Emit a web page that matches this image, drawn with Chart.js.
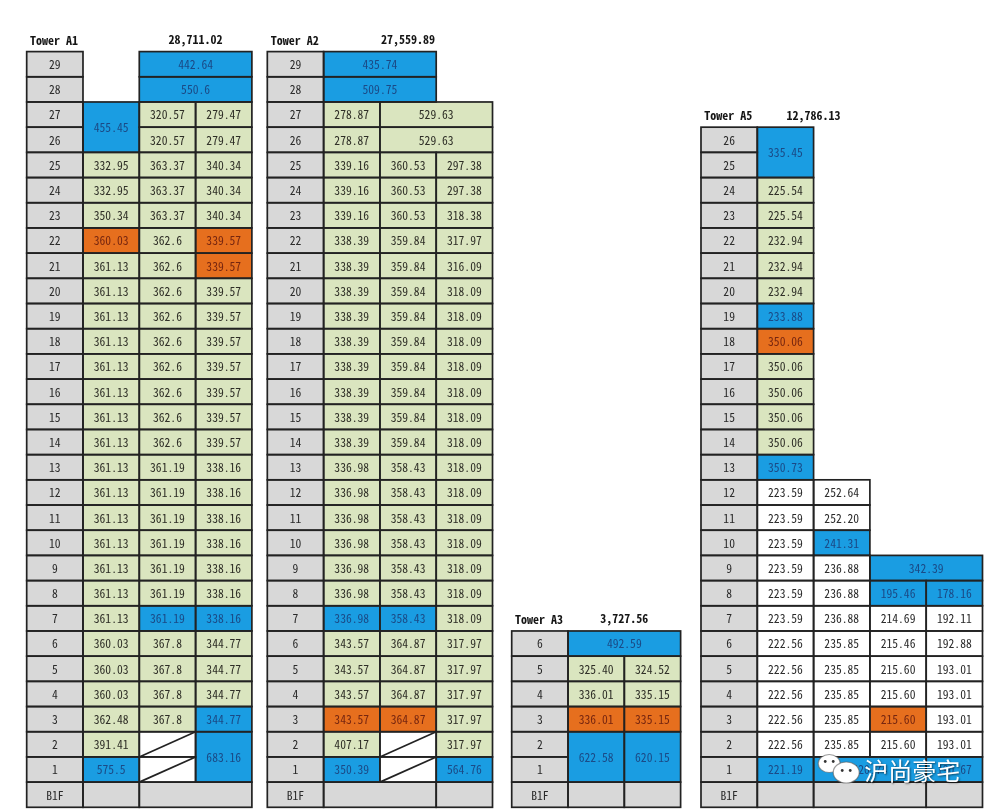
<!DOCTYPE html>
<html><head><meta charset="utf-8">
<script src="https://cdn.jsdelivr.net/npm/chart.js@4.4.0/dist/chart.umd.min.js"></script>
<style>html,body{margin:0;padding:0;background:#fff}#wrap{width:1000px;height:810px;position:relative}</style>
</head><body><div id="wrap"><canvas id="c" width="1000" height="810"></canvas></div>
<script>
// ---------------- DATA ----------------
const towerNames  = ['Tower A1', 'Tower A2', 'Tower A3', 'Tower A5'];
const towerTotals = ['28,711.02', '27,559.89', '3,727.56', '12,786.13'];

const a1Floors = ['B1F','1','2','3','4','5','6','7','8','9','10','11','12','13','14','15','16','17','18','19','20','21','22','23','24','25','26','27','28','29'];
const a2Floors = ['B1F','1','2','3','4','5','6','7','8','9','10','11','12','13','14','15','16','17','18','19','20','21','22','23','24','25','26','27','28','29'];
const a3Floors = ['B1F','1','2','3','4','5','6'];
const a5Floors = ['B1F','1','2','3','4','5','6','7','8','9','10','11','12','13','14','15','16','17','18','19','20','21','22','23','24','25','26'];

// cell: [floor (B1F = 0), rowSpan, column, colSpan, area label, unit type]
// unit type: g = standard, b = highlighted, o = marked, w = plain, x = void, n = basement
const a1Cells = [
  [29,1,2,2,'442.64','b'],
  [28,1,2,2,'550.6','b'],
  [26,2,1,1,'455.45','b'], [27,1,2,1,'320.57','g'], [27,1,3,1,'279.47','g'],
  [26,1,2,1,'320.57','g'], [26,1,3,1,'279.47','g'],
  [25,1,1,1,'332.95','g'], [25,1,2,1,'363.37','g'], [25,1,3,1,'340.34','g'],
  [24,1,1,1,'332.95','g'], [24,1,2,1,'363.37','g'], [24,1,3,1,'340.34','g'],
  [23,1,1,1,'350.34','g'], [23,1,2,1,'363.37','g'], [23,1,3,1,'340.34','g'],
  [22,1,1,1,'360.03','o'], [22,1,2,1,'362.6','g'],  [22,1,3,1,'339.57','o'],
  [21,1,1,1,'361.13','g'], [21,1,2,1,'362.6','g'],  [21,1,3,1,'339.57','o'],
  [20,1,1,1,'361.13','g'], [20,1,2,1,'362.6','g'],  [20,1,3,1,'339.57','g'],
  [19,1,1,1,'361.13','g'], [19,1,2,1,'362.6','g'],  [19,1,3,1,'339.57','g'],
  [18,1,1,1,'361.13','g'], [18,1,2,1,'362.6','g'],  [18,1,3,1,'339.57','g'],
  [17,1,1,1,'361.13','g'], [17,1,2,1,'362.6','g'],  [17,1,3,1,'339.57','g'],
  [16,1,1,1,'361.13','g'], [16,1,2,1,'362.6','g'],  [16,1,3,1,'339.57','g'],
  [15,1,1,1,'361.13','g'], [15,1,2,1,'362.6','g'],  [15,1,3,1,'339.57','g'],
  [14,1,1,1,'361.13','g'], [14,1,2,1,'362.6','g'],  [14,1,3,1,'339.57','g'],
  [13,1,1,1,'361.13','g'], [13,1,2,1,'361.19','g'], [13,1,3,1,'338.16','g'],
  [12,1,1,1,'361.13','g'], [12,1,2,1,'361.19','g'], [12,1,3,1,'338.16','g'],
  [11,1,1,1,'361.13','g'], [11,1,2,1,'361.19','g'], [11,1,3,1,'338.16','g'],
  [10,1,1,1,'361.13','g'], [10,1,2,1,'361.19','g'], [10,1,3,1,'338.16','g'],
  [9,1,1,1,'361.13','g'],  [9,1,2,1,'361.19','g'],  [9,1,3,1,'338.16','g'],
  [8,1,1,1,'361.13','g'],  [8,1,2,1,'361.19','g'],  [8,1,3,1,'338.16','g'],
  [7,1,1,1,'361.13','g'],  [7,1,2,1,'361.19','b'],  [7,1,3,1,'338.16','b'],
  [6,1,1,1,'360.03','g'],  [6,1,2,1,'367.8','g'],   [6,1,3,1,'344.77','g'],
  [5,1,1,1,'360.03','g'],  [5,1,2,1,'367.8','g'],   [5,1,3,1,'344.77','g'],
  [4,1,1,1,'360.03','g'],  [4,1,2,1,'367.8','g'],   [4,1,3,1,'344.77','g'],
  [3,1,1,1,'362.48','g'],  [3,1,2,1,'367.8','g'],   [3,1,3,1,'344.77','b'],
  [2,1,1,1,'391.41','g'],  [2,1,2,1,'','x'],        [1,2,3,1,'683.16','b'],
  [1,1,1,1,'575.5','b'],   [1,1,2,1,'','x'],
  [0,1,1,1,'','n'],        [0,1,2,2,'','n']
];

const a2Cells = [
  [29,1,1,2,'435.74','b'],
  [28,1,1,2,'509.75','b'],
  [27,1,1,1,'278.87','g'], [27,1,2,2,'529.63','g'],
  [26,1,1,1,'278.87','g'], [26,1,2,2,'529.63','g'],
  [25,1,1,1,'339.16','g'], [25,1,2,1,'360.53','g'], [25,1,3,1,'297.38','g'],
  [24,1,1,1,'339.16','g'], [24,1,2,1,'360.53','g'], [24,1,3,1,'297.38','g'],
  [23,1,1,1,'339.16','g'], [23,1,2,1,'360.53','g'], [23,1,3,1,'318.38','g'],
  [22,1,1,1,'338.39','g'], [22,1,2,1,'359.84','g'], [22,1,3,1,'317.97','g'],
  [21,1,1,1,'338.39','g'], [21,1,2,1,'359.84','g'], [21,1,3,1,'316.09','g'],
  [20,1,1,1,'338.39','g'], [20,1,2,1,'359.84','g'], [20,1,3,1,'318.09','g'],
  [19,1,1,1,'338.39','g'], [19,1,2,1,'359.84','g'], [19,1,3,1,'318.09','g'],
  [18,1,1,1,'338.39','g'], [18,1,2,1,'359.84','g'], [18,1,3,1,'318.09','g'],
  [17,1,1,1,'338.39','g'], [17,1,2,1,'359.84','g'], [17,1,3,1,'318.09','g'],
  [16,1,1,1,'338.39','g'], [16,1,2,1,'359.84','g'], [16,1,3,1,'318.09','g'],
  [15,1,1,1,'338.39','g'], [15,1,2,1,'359.84','g'], [15,1,3,1,'318.09','g'],
  [14,1,1,1,'338.39','g'], [14,1,2,1,'359.84','g'], [14,1,3,1,'318.09','g'],
  [13,1,1,1,'336.98','g'], [13,1,2,1,'358.43','g'], [13,1,3,1,'318.09','g'],
  [12,1,1,1,'336.98','g'], [12,1,2,1,'358.43','g'], [12,1,3,1,'318.09','g'],
  [11,1,1,1,'336.98','g'], [11,1,2,1,'358.43','g'], [11,1,3,1,'318.09','g'],
  [10,1,1,1,'336.98','g'], [10,1,2,1,'358.43','g'], [10,1,3,1,'318.09','g'],
  [9,1,1,1,'336.98','g'],  [9,1,2,1,'358.43','g'],  [9,1,3,1,'318.09','g'],
  [8,1,1,1,'336.98','g'],  [8,1,2,1,'358.43','g'],  [8,1,3,1,'318.09','g'],
  [7,1,1,1,'336.98','b'],  [7,1,2,1,'358.43','b'],  [7,1,3,1,'318.09','g'],
  [6,1,1,1,'343.57','g'],  [6,1,2,1,'364.87','g'],  [6,1,3,1,'317.97','g'],
  [5,1,1,1,'343.57','g'],  [5,1,2,1,'364.87','g'],  [5,1,3,1,'317.97','g'],
  [4,1,1,1,'343.57','g'],  [4,1,2,1,'364.87','g'],  [4,1,3,1,'317.97','g'],
  [3,1,1,1,'343.57','o'],  [3,1,2,1,'364.87','o'],  [3,1,3,1,'317.97','g'],
  [2,1,1,1,'407.17','g'],  [2,1,2,1,'','x'],        [2,1,3,1,'317.97','g'],
  [1,1,1,1,'350.39','b'],  [1,1,2,1,'','x'],        [1,1,3,1,'564.76','b'],
  [0,1,1,2,'','n'],        [0,1,3,1,'','n']
];

const a3Cells = [
  [6,1,1,2,'492.59','b'],
  [5,1,1,1,'325.40','g'], [5,1,2,1,'324.52','g'],
  [4,1,1,1,'336.01','g'], [4,1,2,1,'335.15','g'],
  [3,1,1,1,'336.01','o'], [3,1,2,1,'335.15','o'],
  [1,2,1,1,'622.58','b'], [1,2,2,1,'620.15','b'],
  [0,1,1,1,'','n'],       [0,1,2,1,'','n']
];

const a5Cells = [
  [25,2,1,1,'335.45','b'],
  [24,1,1,1,'225.54','g'], [23,1,1,1,'225.54','g'],
  [22,1,1,1,'232.94','g'], [21,1,1,1,'232.94','g'], [20,1,1,1,'232.94','g'],
  [19,1,1,1,'233.88','b'], [18,1,1,1,'350.06','o'],
  [17,1,1,1,'350.06','g'], [16,1,1,1,'350.06','g'], [15,1,1,1,'350.06','g'], [14,1,1,1,'350.06','g'],
  [13,1,1,1,'350.73','b'],
  [12,1,1,1,'223.59','w'], [12,1,2,1,'252.64','w'],
  [11,1,1,1,'223.59','w'], [11,1,2,1,'252.20','w'],
  [10,1,1,1,'223.59','w'], [10,1,2,1,'241.31','b'],
  [9,1,1,1,'223.59','w'],  [9,1,2,1,'236.88','w'],  [9,1,3,2,'342.39','b'],
  [8,1,1,1,'223.59','w'],  [8,1,2,1,'236.88','w'],  [8,1,3,1,'195.46','b'], [8,1,4,1,'178.16','b'],
  [7,1,1,1,'223.59','w'],  [7,1,2,1,'236.88','w'],  [7,1,3,1,'214.69','w'], [7,1,4,1,'192.11','w'],
  [6,1,1,1,'222.56','w'],  [6,1,2,1,'235.85','w'],  [6,1,3,1,'215.46','w'], [6,1,4,1,'192.88','w'],
  [5,1,1,1,'222.56','w'],  [5,1,2,1,'235.85','w'],  [5,1,3,1,'215.60','w'], [5,1,4,1,'193.01','w'],
  [4,1,1,1,'222.56','w'],  [4,1,2,1,'235.85','w'],  [4,1,3,1,'215.60','w'], [4,1,4,1,'193.01','w'],
  [3,1,1,1,'222.56','w'],  [3,1,2,1,'235.85','w'],  [3,1,3,1,'215.60','o'], [3,1,4,1,'193.01','w'],
  [2,1,1,1,'222.56','w'],  [2,1,2,1,'235.85','w'],  [2,1,3,1,'215.60','w'], [2,1,4,1,'193.01','w'],
  [1,1,1,1,'221.19','b'],  [1,1,2,2,'420.74','b'],  [1,1,4,1,'190.67','b'],
  [0,1,1,1,'','n'],        [0,1,2,2,'','n'],        [0,1,4,1,'','n']
];

const towerFloors = [a1Floors, a2Floors, a3Floors, a5Floors];
const towerCells  = [a1Cells, a2Cells, a3Cells, a5Cells];

// ---------------- LAYOUT / STYLE ----------------
const COL_PX = 56.3;
const ROW_PX = 25.19;
const towerLeft  = [0.474, 4.748, 9.089, 12.451];   // in column units
const totalAt    = [3.0, 2.5, 2.0, 2.0];             // total label centre (columns from tower left)
const FILL = { g:'#dae5bf', b:'#1a9de2', o:'#e66f1e', w:'#ffffff', x:'#ffffff', n:'#d8d8d8', f:'#d8d8d8' };
const INK  = { g:'#2e2e26', b:'#1b4a86', o:'#762610', w:'#2a2a2a', f:'#2a2a2a' };
const NUM_FONT  = '11.6px "Noto Sans Mono CJK SC", "Noto Sans CJK SC", sans-serif';
const HEAD_FONT = 'bold 12px "Noto Sans Mono CJK SC", "Noto Sans CJK SC", sans-serif';
const LINE = '#222222';

const yMin = -(810 - 807.3) / ROW_PX;
const yMax = yMin + 810 / ROW_PX;

const gridPlugin = {
  id: 'gridCells',
  afterDatasetsDraw(chart) {
    const ctx = chart.ctx, xs = chart.scales.x, ys = chart.scales.y;
    const rects = [];
    towerCells.forEach((cells, t) => {
      const x0 = towerLeft[t];
      towerFloors[t].forEach((lab, f) => {
        rects.push({ l: xs.getPixelForValue(x0), r: xs.getPixelForValue(x0 + 1),
                     b: ys.getPixelForValue(f), tp: ys.getPixelForValue(f + 1), label: lab, kind: 'f' });
      });
      cells.forEach(([f, rs, c, cs, lab, kind]) => {
        rects.push({ l: xs.getPixelForValue(x0 + c), r: xs.getPixelForValue(x0 + c + cs),
                     b: ys.getPixelForValue(f), tp: ys.getPixelForValue(f + rs), label: lab, kind });
      });
      const top = towerFloors[t].length;
      ctx.save();
      ctx.font = HEAD_FONT; ctx.fillStyle = '#151515'; ctx.textBaseline = 'middle';
      ctx.textAlign = 'left';
      ctx.fillText(towerNames[t], xs.getPixelForValue(x0 + 0.06), ys.getPixelForValue(top + 0.46));
      ctx.textAlign = 'center';
      ctx.fillText(towerTotals[t], xs.getPixelForValue(x0 + totalAt[t]), ys.getPixelForValue(top + 0.48));
      ctx.restore();
    });
    ctx.save();
    rects.forEach(r => { ctx.fillStyle = FILL[r.kind]; ctx.fillRect(r.l, r.tp, r.r - r.l, r.b - r.tp); });
    ctx.font = NUM_FONT; ctx.textAlign = 'center'; ctx.textBaseline = 'middle';
    rects.forEach(r => {
      if (r.label) { ctx.fillStyle = INK[r.kind]; ctx.fillText(r.label, (r.l + r.r) / 2, (r.tp + r.b) / 2 + 0.5); }
    });
    ctx.strokeStyle = LINE; ctx.lineWidth = 1.7;
    rects.forEach(r => {
      ctx.strokeRect(r.l, r.tp, r.r - r.l, r.b - r.tp);
      if (r.kind === 'x') { ctx.beginPath(); ctx.moveTo(r.l, r.b); ctx.lineTo(r.r, r.tp); ctx.stroke(); }
    });
    ctx.restore();
    // watermark
    ctx.save();
    const wx = xs.getPixelForValue(towerLeft[3] + 2.1), wy = ys.getPixelForValue(1.5);
    ctx.fillStyle = '#ffffff'; ctx.strokeStyle = 'rgba(90,90,90,0.6)'; ctx.lineWidth = 1.2;
    ctx.beginPath(); ctx.ellipse(wx + 10, wy - 6, 11, 9, 0, 0, Math.PI * 2); ctx.fill(); ctx.stroke();
    ctx.beginPath(); ctx.ellipse(wx + 27, wy + 3, 13, 10.5, 0, 0, Math.PI * 2); ctx.fill(); ctx.stroke();
    ctx.fillStyle = '#333';
    [[6,-8],[14,-8],[23,1],[31,1]].forEach(([dx,dy]) => { ctx.beginPath(); ctx.arc(wx + dx, wy + dy, 1.4, 0, Math.PI * 2); ctx.fill(); });
    ctx.font = '24px "Noto Sans CJK SC", sans-serif'; ctx.textBaseline = 'middle'; ctx.textAlign = 'left';
    ctx.shadowColor = 'rgba(0,0,0,0.55)'; ctx.shadowBlur = 2; ctx.shadowOffsetX = 1; ctx.shadowOffsetY = 1;
    ctx.fillStyle = '#ffffff';
    ctx.fillText('沪尚豪宅', wx + 45, wy + 1);
    ctx.restore();
  }
};

new Chart(document.getElementById('c'), {
  type: 'scatter',
  data: { datasets: [{ data: [], pointRadius: 0 }] },
  options: {
    responsive: false, animation: false, devicePixelRatio: 1,
    layout: { padding: 0 },
    plugins: { legend: { display: false }, tooltip: { enabled: false }, title: { display: false } },
    scales: {
      x: { type: 'linear', min: 0, max: 1000 / COL_PX, display: false },
      y: { type: 'linear', min: yMin, max: yMax, display: false }
    }
  },
  plugins: [gridPlugin]
});
</script></body></html>
